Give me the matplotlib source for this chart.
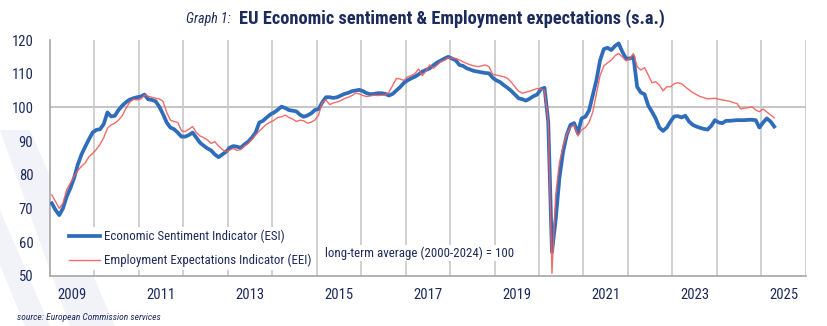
import numpy as np
import pandas as pd
import matplotlib
matplotlib.use("Agg")
import matplotlib.pyplot as plt
from matplotlib import font_manager
from matplotlib.patches import Polygon

installed = {f.name for f in font_manager.fontManager.ttflist}
narrow = [n for n in ['Liberation Sans Narrow', 'Roboto Condensed', 'Open Sans Condensed',
                      'DejaVu Sans Condensed'] if n in installed]
plt.rcParams['font.family'] = narrow + ['Liberation Sans', 'DejaVu Sans']

# monthly data, Jan 2009 - Apr 2025
months = pd.date_range('2009-01-01', periods=196, freq='MS')

esi = [
    71.5, 69.5, 68.0, 70.0, 73.5, 76.0, 79.0, 83.0, 86.0, 88.3, 90.5, 92.5,          # 2009
    93.3, 93.5, 95.0, 98.5, 97.3, 97.5, 99.2, 100.5, 101.5, 102.3, 102.7, 103.0,     # 2010
    103.2, 103.8, 102.4, 102.2, 101.8, 100.2, 98.0, 95.5, 94.0, 93.5, 92.5, 91.3,    # 2011
    91.3, 91.8, 92.5, 91.0, 89.5, 88.6, 87.8, 87.2, 86.0, 85.2, 86.0, 86.8,          # 2012
    88.0, 88.5, 88.3, 88.0, 89.0, 89.8, 91.0, 92.5, 95.5, 96.0, 97.0, 97.9,          # 2013
    98.5, 99.3, 100.2, 99.8, 99.2, 99.0, 98.8, 97.8, 97.2, 97.6, 98.2, 99.2,         # 2014
    99.5, 101.5, 103.0, 103.0, 102.8, 103.0, 103.5, 104.0, 104.3, 104.8, 105.0, 105.2,  # 2015
    104.8, 104.2, 103.9, 104.0, 104.2, 104.2, 104.0, 103.5, 104.0, 105.0, 106.0, 107.2,  # 2016
    108.0, 108.6, 109.1, 109.8, 110.6, 111.1, 111.6, 112.5, 113.3, 113.9, 114.5, 115.0,  # 2017
    114.5, 114.0, 112.6, 112.3, 111.6, 111.2, 110.8, 110.6, 110.4, 110.2, 110.1, 108.8,  # 2018
    108.0, 107.5, 106.6, 105.8, 104.9, 103.8, 102.7, 102.4, 102.0, 102.6, 103.3, 103.8,  # 2019
    105.4, 105.8, 95.7, 57.1, 66.5, 78.9, 86.8, 91.8, 94.8, 95.3, 92.3, 96.7,        # 2020
    97.2, 99.0, 103.5, 108.0, 114.0, 117.3, 117.7, 117.0, 118.2, 119.0, 116.5, 114.5,  # 2021
    114.5, 115.0, 106.1, 104.4, 103.9, 100.5, 98.7, 96.7, 94.0, 93.0, 94.0, 95.8,    # 2022
    97.3, 97.4, 97.0, 97.5, 95.8, 94.8, 94.3, 93.9, 93.6, 93.4, 94.5, 96.2,          # 2023
    95.5, 95.3, 96.0, 96.0, 96.1, 96.2, 96.2, 96.2, 96.3, 96.3, 96.2, 94.0,          # 2024
    95.5, 96.7, 95.8, 94.3,                                                          # 2025
]

eei = [
    74.0, 72.0, 70.0, 71.5, 75.5, 77.5, 79.5, 81.2, 82.5, 83.5, 85.3, 86.3,          # 2009
    87.5, 89.0, 91.0, 93.8, 94.8, 95.3, 96.2, 97.5, 99.7, 101.5, 102.4, 102.2,       # 2010
    102.5, 103.6, 103.3, 103.0, 102.7, 102.5, 101.8, 98.5, 96.2, 95.8, 95.5, 93.0,   # 2011
    92.8, 93.5, 94.3, 92.5, 91.5, 91.0, 90.3, 89.3, 89.8, 88.5, 87.5, 86.8,          # 2012
    87.3, 87.8, 87.2, 87.5, 88.5, 89.3, 90.5, 91.8, 93.0, 94.0, 95.0, 95.6,          # 2013
    96.2, 97.0, 97.2, 97.7, 97.0, 96.5, 95.8, 96.2, 96.0, 95.3, 95.6, 96.2,          # 2014
    97.7, 101.5, 102.2, 100.8, 101.3, 101.6, 102.0, 102.6, 103.0, 103.5, 104.2, 104.0,  # 2015
    103.5, 103.2, 103.4, 103.6, 103.5, 103.6, 103.6, 104.5, 106.5, 108.6, 108.4, 108.0,  # 2016
    109.0, 109.4, 110.0, 111.4, 109.4, 110.8, 112.6, 111.6, 112.5, 113.6, 114.0, 114.7,  # 2017
    114.6, 114.5, 114.1, 113.5, 113.0, 112.6, 112.3, 112.1, 112.3, 112.6, 112.1, 109.8,  # 2018
    109.6, 109.3, 109.1, 108.6, 107.5, 106.1, 104.8, 104.2, 104.5, 104.8, 105.2, 105.6,  # 2019
    105.4, 105.1, 95.7, 50.7, 74.0, 83.5, 88.5, 92.0, 94.0, 94.8, 91.5, 93.3,        # 2020
    94.0, 95.5, 98.5, 104.0, 109.5, 112.3, 113.2, 114.0, 115.3, 116.0, 115.0, 113.8,  # 2021
    114.5, 116.0, 112.1, 111.1, 111.8, 109.6, 107.3, 107.6, 106.6, 104.9, 106.1, 106.1,  # 2022
    107.0, 107.3, 107.0, 106.1, 105.2, 104.4, 103.8, 103.2, 102.9, 102.5, 102.6, 102.7,  # 2023
    102.4, 102.2, 102.0, 101.8, 101.4, 101.1, 99.5, 99.8, 99.9, 100.2, 99.2, 98.7,   # 2024
    99.5, 98.6, 97.8, 96.9,                                                          # 2025
]

year_labels = ['2009', '2011', '2013', '2015', '2017', '2019', '2021', '2023', '2025']

navy = '#1c2a5c'
blue = '#2f6dbb'
red = '#f25c5c'
grid_grey = '#c8c8c8'

# decimal year, each month centred in its slot
t = months.year + (months.month - 0.5) / 12

fig = plt.figure(figsize=(8.27, 3.26), dpi=100)

# faint diagonal bands in the background
W, H = 827, 326
bands = [
    [(0, 130), (30, 130), (115, 326), (70, 326)],
    [(0, 210), (0, 265), (25, 326), (50, 326)],
]
for b in bands:
    pts = [(x / W, 1 - y / H) for x, y in b]
    fig.patches.append(Polygon(pts, closed=True, transform=fig.transFigure,
                               facecolor='#f2f2f9', edgecolor='none', zorder=-5))

ax = fig.add_axes([50 / W, 1 - 275.7 / H, 755.7 / W, 235.7 / H])
ax.set_zorder(2)
ax.set_facecolor('white')

ax.plot(t, esi, color=blue, lw=2.7, solid_joinstyle='round', zorder=3,
        label='Economic Sentiment Indicator (ESI)')
ax.plot(t, eei, color=red, lw=1.0, alpha=0.9, zorder=4,
        label='Employment Expectations Indicator (EEI)')

ax.set_xlim(2009, 2026)
ax.set_ylim(50, 120)

# year boundaries as gridlines, labels in the middle of odd years
ax.set_xticks(np.arange(2010, 2027), minor=False)
ax.set_xticklabels([])
ax.set_xticks([int(y) + 0.5 for y in year_labels], minor=True)
ax.set_xticklabels(year_labels, minor=True)
ax.tick_params(axis='x', which='both', length=0)
ax.tick_params(axis='x', which='minor', pad=9, labelsize=10.5, labelcolor=navy)
ax.grid(axis='x', which='major', color=grid_grey, lw=1.2, zorder=1)
ax.axhline(100, color='#c0c0c0', lw=1.3, zorder=1)

ax.set_yticks(np.arange(50, 121, 10))
ax.tick_params(axis='y', length=0, pad=12, labelsize=10.5, labelcolor=navy)

for s in ['top', 'right']:
    ax.spines[s].set_visible(False)
for s in ['left', 'bottom']:
    ax.spines[s].set_color('#a6a6a6')
    ax.spines[s].set_linewidth(1.2)

leg = ax.legend(loc='lower left', bbox_to_anchor=(0.022, 0.025), frameon=True,
                facecolor='white', edgecolor='none', framealpha=1, fancybox=False,
                fontsize=9.3, handlelength=2.4, handletextpad=0.3, labelspacing=0.8,
                borderpad=0.2, borderaxespad=0)
leg.set_zorder(5)
for txt in leg.get_texts():
    txt.set_color(navy)

ax.text(2015.18, 56.8, 'long-term average (2000-2024) = 100', fontsize=9.3,
        color=navy, va='center', ha='left', zorder=5,
        bbox=dict(facecolor='white', edgecolor='none', pad=1))

fig.text(231 / W, 1 - 19 / H, 'Graph 1:', fontsize=10, style='italic',
         color=navy, ha='right', va='center')
fig.text(239 / W, 1 - 19 / H, 'EU Economic sentiment & Employment expectations (s.a.)',
         fontsize=13.2, fontweight='bold', color=navy, ha='left', va='center')
fig.text(17 / W, 1 - 317 / H, 'source: European Commission services', fontsize=6.8,
         style='italic', color=navy, ha='left', va='center')

fig.savefig('out.png', dpi=100)
